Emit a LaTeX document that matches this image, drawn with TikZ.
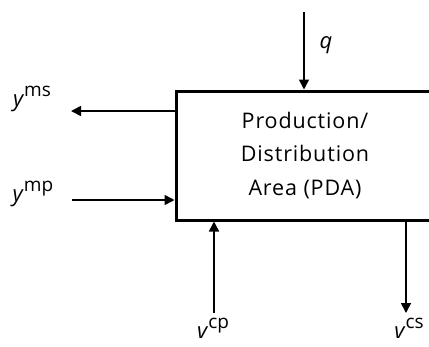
\documentclass[tikz,border=0pt]{standalone}
\usepackage{fontspec}
\setmainfont{Open Sans}
\usetikzlibrary{arrows.meta, calc}
\tikzset{
    flow/.style={line width=1.6pt, -{Triangle[length=10pt, width=10pt]}},
    lbl/.style={font=\fontsize{22}{24}\selectfont, inner sep=0pt},
}
\newcommand{\var}[2]{\textit{#1}\raisebox{0.45em}{\fontsize{19}{20}\selectfont #2}}

\begin{document}
\begin{tikzpicture}[x=1pt, y=-1pt]
                        \clip (0,0) rectangle (429,346);
                        \node[draw, line width=3pt, minimum width=258pt, minimum height=129pt, align=center, font=\fontsize{21.5}{33.5}\selectfont\addfontfeature{LetterSpace=4}] (pda) at (305,155.5) {Production/\\Distribution\\Area (PDA)};
                        \coordinate (qtop) at (304,12);
                        \coordinate (msend) at (71,111);
                        \coordinate (mpstart) at (72,200);
                        \coordinate (cpstart) at (214,313);
                        \coordinate (csend) at (406,313);
                        \draw[flow] (qtop) -- (qtop |- pda.north);
                        \draw[flow] (msend -| pda.west) -- (msend);
                        \draw[flow] (mpstart) -- (mpstart -| pda.west);
                        \draw[flow] (cpstart) -- (cpstart |- pda.south);
                        \draw[flow] (csend |- pda.south) -- (csend);
                        \node[lbl] (q) at (326,45) {\textit{q}};
                        \node[lbl] (yms) at (32,99) {\var{y}{ms}};
                        \node[lbl] (ymp) at (33,194) {\var{y}{mp}};
                        \node[lbl] (vcp) at (213,328) {\var{v}{cp}};
                        \node[lbl] (vcs) at (409,328) {\var{v}{cs}};
            		\end{tikzpicture}
\end{document}
